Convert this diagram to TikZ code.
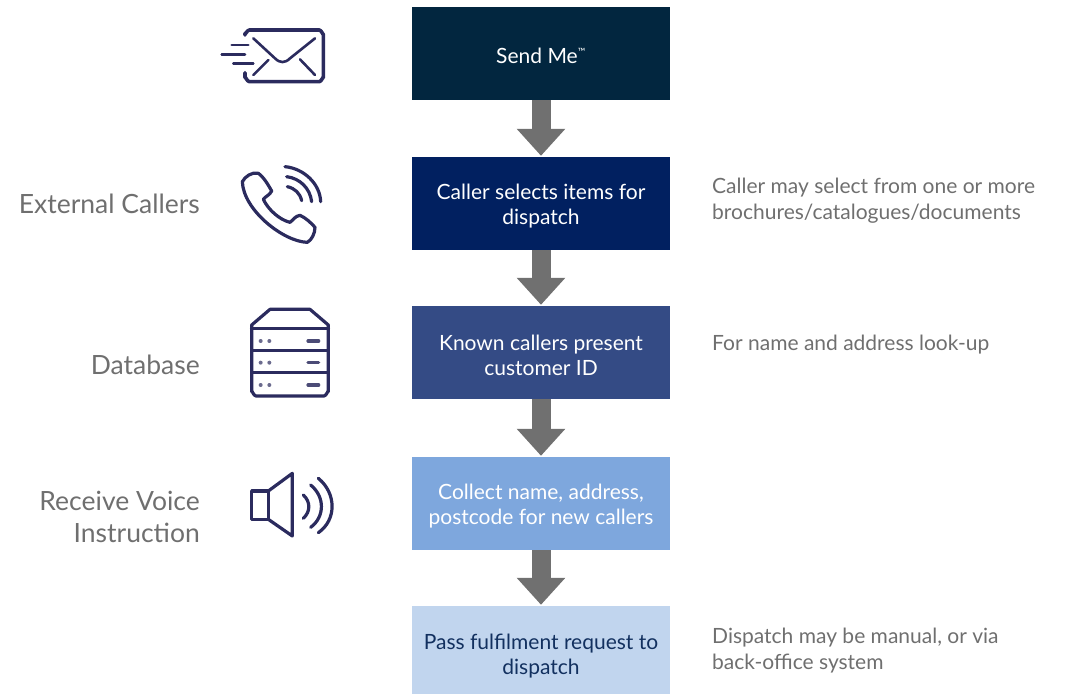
\documentclass[tikz,border=0pt]{standalone}
\usepackage{fontspec}
\setmainfont{Lato}
\usetikzlibrary{arrows.meta}
\definecolor{boxa}{HTML}{02263F}
\definecolor{boxb}{HTML}{012060}
\definecolor{boxc}{HTML}{344B85}
\definecolor{boxd}{HTML}{7EA7DD}
\definecolor{boxe}{HTML}{C1D5EE}
\definecolor{navytext}{HTML}{12305F}
\definecolor{greytext}{HTML}{6F6F6F}
\definecolor{arrowgrey}{HTML}{707070}
\definecolor{iconink}{HTML}{2B2B5E}
\newcommand{\pushdown}[1]{\rule{0pt}{#1pt}}
\tikzset{
  flowbox/.style={minimum width=258pt,minimum height=93pt,inner sep=0pt,align=center,text=white,anchor=center,font=\fontsize{21}{25}\selectfont},
  flowarrow/.style={draw=arrowgrey,line width=19pt,-{Triangle[width=47pt,length=27pt]},shorten >=1pt},
  sidelabel/.style={anchor=east,align=right,text=greytext,font=\fontsize{26.5}{32}\selectfont,inner sep=0pt},
  sidenote/.style={anchor=west,align=left,text=greytext,font=\fontsize{21}{26}\selectfont,inner sep=0pt},
  iconline/.style={draw=iconink,line width=3.2pt,line cap=round,line join=round},
  iconthin/.style={draw=iconink,line width=2.6pt,line cap=round,line join=round}
}
\begin{document}
\begin{tikzpicture}[x=1pt,y=-1pt]
\useasboundingbox (0,0) rectangle (1065,694);
\node[flowbox,fill=boxa] (a) at (541,53.5) {\pushdown{20}Send Me\textsuperscript{\fontsize{10}{10}\selectfont ™}};
\node[flowbox,fill=boxb] (b) at (541,203.5) {\pushdown{21}Caller selects items for\\dispatch};
\node[flowbox,fill=boxc] (c) at (541,352.5) {\pushdown{21}Known callers present\\customer ID};
\node[flowbox,fill=boxd] (d) at (541,503.5) {\pushdown{21}Collect name, address,\\postcode for new callers};
\node[flowbox,fill=boxe,minimum height=88pt,text=navytext] (e) at (541,650) {\pushdown{27}Pass fulfilment request to\\dispatch};
\draw[flowarrow] (a) -- (b);
\draw[flowarrow] (b) -- (c);
\draw[flowarrow] (c) -- (d);
\draw[flowarrow] (d) -- (e);
\node[sidelabel] (l1) at (200,204) {External Callers};
\node[sidelabel] (l2) at (200,365) {Database};
\node[sidelabel] (l3) at (200,517) {Receive Voice\\Instruction};
\node[sidenote] (n1) at (712,201) {Caller may select from one or more\\brochures/catalogues/documents};
\node[sidenote] (n2) at (712,345) {For name and address look-up};
\node[sidenote] (n3) at (712,651) {Dispatch may be manual, or via\\back-office system};
% envelope
\begin{scope}[shift={(200,10)},scale=1/3]
\draw[iconline,line width=3.6pt] (135,75) -- (135,70) to[out=-90,in=180] (148,60) -- (358,60) to[out=0,in=-90] (370,72) -- (370,203) to[out=90,in=0] (358,215) -- (148,215) to[out=180,in=90] (135,203) -- (135,188);
\draw[iconthin] (95,105) -- (145,105) (65,133) -- (135,133) (100,160) -- (160,160);
\draw[iconthin] (160,85) -- (225,145) .. controls (240,160) and (255,160) .. (270,145) -- (345,85);
\draw[iconthin] (160,195) -- (205,150) (345,195) -- (300,148);
\end{scope}
% phone
\begin{scope}[shift={(200,10)},scale=1/3]
\draw[iconline] (127,515) .. controls (135,500) and (155,485) .. (175,490) .. controls (190,500) and (205,525) .. (215,543) .. controls (210,555) and (195,560) .. (190,568) .. controls (205,600) and (240,630) .. (270,637) .. controls (280,630) and (285,618) .. (300,616) .. controls (315,622) and (335,640) .. (345,652) .. controls (345,670) and (335,690) .. (322,697) .. controls (250,695) and (130,600) .. (127,515) -- cycle;
\draw[iconline] (262,530) .. controls (285,535) and (300,550) .. (305,572);
\draw[iconline] (260,500) .. controls (300,505) and (330,535) .. (335,575);
\draw[iconline] (255,470) .. controls (310,475) and (360,520) .. (362,575);
\end{scope}
% database
\begin{scope}[shift={(220,290)},scale=1/3]
\draw[iconline] (95,105) -- (150,58) -- (270,58) -- (325,105) -- (325,305) to[out=90,in=0] (312,318) -- (108,318) to[out=180,in=90] (95,305) -- cycle;
\draw[iconline,line width=3.6pt] (95,115) -- (325,115);
\draw[iconline] (95,182) -- (325,182) (95,248) -- (325,248);
\foreach \r in {153,218,285}{
  \fill[iconink!70] (122,\r) circle (6) (148,\r) circle (6);
  \draw[iconline,iconink!85] (264,\r) -- (296,\r);
}
\end{scope}
% speaker
\begin{scope}[shift={(220,290)},scale=1/3]
\draw[iconline] (95,603) rectangle (145,688);
\draw[iconline] (145,603) -- (217,550) -- (217,738) -- (145,688);
\draw[iconline] (250,615) .. controls (272,635) and (272,665) .. (250,685);
\draw[iconline] (272,585) .. controls (315,620) and (315,680) .. (272,712);
\draw[iconline] (295,565) .. controls (350,610) and (350,690) .. (295,728);
\end{scope}
\end{tikzpicture}
\end{document}
